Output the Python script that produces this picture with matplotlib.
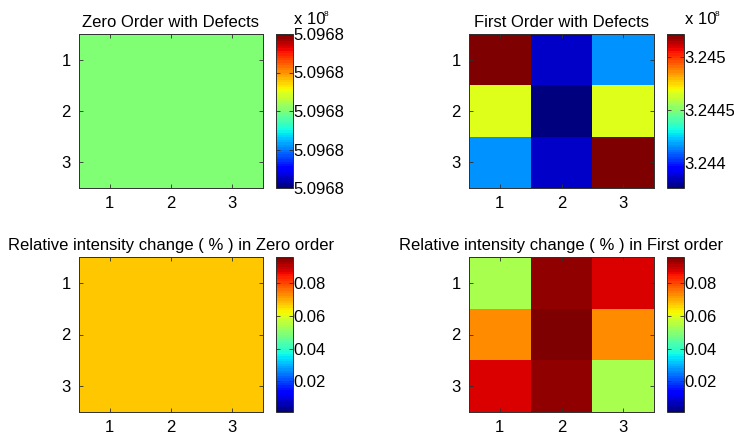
import numpy as np
import matplotlib
matplotlib.use('Agg')
import matplotlib.pyplot as plt
from matplotlib.colors import Normalize
from matplotlib.ticker import FuncFormatter

plt.rcParams['font.family'] = ['Liberation Sans', 'DejaVu Sans']
plt.rcParams['font.size'] = 12

# 3x3 intensity maps (zero order is flat)
zero_order = [[509680000.0, 509680000.0, 509680000.0],
              [509680000.0, 509680000.0, 509680000.0],
              [509680000.0, 509680000.0, 509680000.0]]
first_order = [[3.24522e8, 3.24386e8, 3.24417e8],
               [3.24467e8, 3.24376e8, 3.24467e8],
               [3.24417e8, 3.24386e8, 3.24522e8]]

# relative intensity change in percent
rel_zero = [[0.0664, 0.0664, 0.0664],
            [0.0664, 0.0664, 0.0664],
            [0.0664, 0.0664, 0.0664]]
rel_first = [[0.054, 0.093, 0.087],
             [0.073, 0.0955, 0.073],
             [0.087, 0.093, 0.054]]
rel_clim = (0.0015, 0.0955)

titles = ['Zero Order with Defects', 'First Order with Defects',
          'Relative intensity change ( % ) in Zero order',
          'Relative intensity change ( % ) in First order']

cmap = plt.get_cmap('jet', 64)
edge = '#303030'

fig = plt.figure(figsize=(7.34, 4.34), dpi=100)

W, H = 734.0, 434.0
def box(x0, x1, y0, y1):
    return [x0 / W, 1 - y1 / H, (x1 - x0) / W, (y1 - y0) / H]

ax_pos = [box(79, 263, 34, 188), box(469, 654, 34, 188),
          box(79, 263, 257, 412), box(469, 654, 257, 412)]
cb_pos = [box(276, 293, 34, 188), box(667, 684, 34, 188),
          box(276, 293, 257, 412), box(667, 684, 257, 412)]

zv = zero_order[0][0]
norms = [Normalize(zv - 0.5, zv + 0.5),
         Normalize(np.min(first_order), np.max(first_order)),
         Normalize(*rel_clim), Normalize(*rel_clim)]
data = [zero_order, first_order, rel_zero, rel_first]

cb_ticks = [np.linspace(zv - 0.5, zv + 0.5, 5),
            [3.244e8, 3.2445e8, 3.245e8],
            [0.02, 0.04, 0.06, 0.08],
            [0.02, 0.04, 0.06, 0.08]]
cb_fmt = [FuncFormatter(lambda v, p: '%.4f' % (v / 1e8)),
          FuncFormatter(lambda v, p: '%g' % round(v / 1e8, 4)),
          FuncFormatter(lambda v, p: '%g' % v),
          FuncFormatter(lambda v, p: '%g' % v)]

for i in range(4):
    ax = fig.add_axes(ax_pos[i])
    im = ax.imshow(np.array(data[i]), cmap=cmap, norm=norms[i],
                   extent=[0.5, 3.5, 3.5, 0.5], aspect='auto',
                   interpolation='nearest')
    ax.set_xticks([1, 2, 3])
    ax.set_yticks([1, 2, 3])
    ax.tick_params(direction='in', top=True, right=True, length=3,
                   width=0.6, color=edge, labelsize=12, pad=6)
    for s in ax.spines.values():
        s.set_color(edge)
        s.set_linewidth(0.7)
    ax.set_title(titles[i], fontsize=12, pad=5)

    cax = fig.add_axes(cb_pos[i])
    cb = fig.colorbar(im, cax=cax)
    cb.set_ticks(cb_ticks[i])
    cb.ax.yaxis.set_major_formatter(cb_fmt[i])
    cb.ax.tick_params(direction='in', length=3, width=0.6, color=edge,
                      labelsize=12, pad=0, left=True)
    cb.outline.set_edgecolor(edge)
    cb.outline.set_linewidth(0.7)

# exponent labels above the top colorbars
for x0 in (294, 685):
    fig.text(x0 / W, 1 - 24 / H, 'x 10', fontsize=12)
    fig.text((x0 + 30) / W, 1 - 16 / H, '8', fontsize=6)

fig.savefig('out.png', dpi=100)
